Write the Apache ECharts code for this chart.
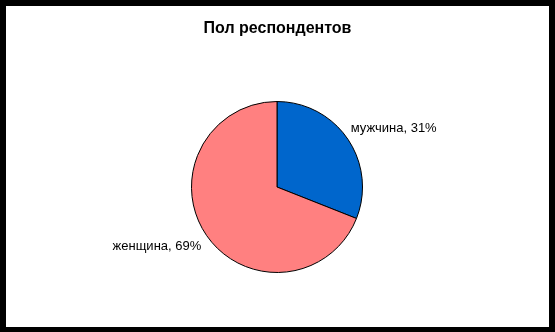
<!DOCTYPE html>
<html><head><meta charset="utf-8">
<script src="https://cdn.jsdelivr.net/npm/echarts@6/dist/echarts.min.js"></script>
<style>
html,body{margin:0;padding:0;background:#000;width:555px;height:332px;overflow:hidden;}
#c{position:absolute;left:6px;top:6px;width:543px;height:321px;background:#fff;}
</style></head><body>
<div id="c"></div>
<script>
var categories = ['мужчина', 'женщина'];
var values = [31, 69];
var colors = ['#0066CC', '#FF8080'];
var chart = echarts.init(document.getElementById('c'));
chart.setOption({
  animation: false,
  title: {
    text: 'Пол респондентов', left: 'center', top: 10,
    textStyle: {fontFamily: 'Liberation Sans', fontSize: 16, fontWeight: 'bold', color: '#000'}
  },
  series: [{
    type: 'pie',
    center: [271, 181],
    radius: 85.5,
    startAngle: 90,
    clockwise: true,
    data: categories.map(function (c, i) {
      return {name: c, value: values[i], itemStyle: {color: colors[i]}};
    }),
    itemStyle: {borderColor: '#000', borderWidth: 1},
    label: {
      show: true, position: 'outside',
      formatter: function (p) { return p.name + ', ' + Math.round(p.percent) + '%'; },
      fontFamily: 'Liberation Sans', fontSize: 13, color: '#000',
      distanceToLabelLine: 3
    },
    labelLine: {show: false, length: 0, length2: 0},
    labelLayout: function (p) { return p.dataIndex === 0 ? {dy: -11} : {dx: -2, dy: 11}; },
    emphasis: {disabled: true}
  }]
});
</script></body></html>
